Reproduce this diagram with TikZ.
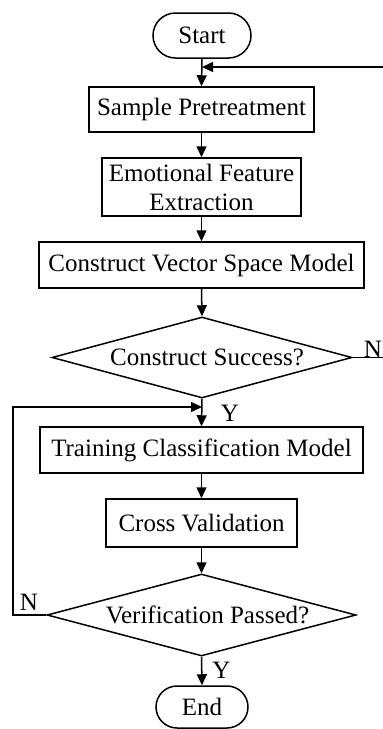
\documentclass[tikz,border=0pt]{standalone}
\usepackage{fontspec}
\setmainfont{Liberation Serif}
\usetikzlibrary{shapes.misc,shapes.geometric,arrows.meta}
\begin{document}
\begin{tikzpicture}[x=1pt,y=-1pt,
  every node/.style={font=\fontsize{25}{29}\selectfont, inner sep=0pt},
  proc/.style={draw, line width=1.5pt, rectangle, align=center},
  term/.style={draw, line width=1.5pt, rounded rectangle},
  dec/.style={draw, line width=1.5pt, diamond},
  flow/.style={line width=1.5pt, -{Triangle[length=11pt,width=10pt]}},
  link/.style={line width=1.5pt}]
\useasboundingbox (0,0) rectangle (383,729);
\node[term, minimum width=98pt, minimum height=45pt] (start) at (202,35.5) {Start};
\node[proc, minimum width=225pt, minimum height=45pt] (sample) at (201.5,109.5) {Sample Pretreatment};
\node[proc, minimum width=199pt, minimum height=58pt] (emo) at (201.5,187) {Emotional Feature\\Extraction};
\node[proc, minimum width=325pt, minimum height=46pt] (vsm) at (201.5,265) {Construct Vector Space Model};
\node[dec, minimum width=300pt, minimum height=81pt] (d1) at (202,357.5) {\makebox[0pt]{\hspace{10pt}Construct Success?}};
\node[proc, minimum width=323pt, minimum height=46pt] (train) at (201.5,450) {Training Classification Model};
\node[proc, minimum width=191pt, minimum height=48pt] (cross) at (201.5,523) {Cross Validation};
\node[dec, minimum width=309pt, minimum height=82pt] (d2) at (201.5,615) {\makebox[0pt]{\hspace{12pt}Verification Passed?}};
\node[term, minimum width=92pt, minimum height=42pt] (end) at (202,707) {End};

\coordinate (j1) at (202,67);
\coordinate (j2) at (202,407);
\coordinate (r1) at (386,357.5);
\coordinate (r2) at (386,67);
\coordinate (l1) at (13,615);
\coordinate (l2) at (13,407);

\draw[flow] (start.south) -- (sample.north);
\draw[flow] (sample.south) -- (emo.north);
\draw[flow] (emo.south) -- (vsm.north);
\draw[flow] (vsm.south) -- (d1.north);
\draw[flow] (d1.south) -- (train.north);
\draw[flow] (train.south) -- (cross.north);
\draw[flow] (cross.south) -- (d2.north);
\draw[flow] (d2.south) -- (end.north);
\draw[flow] (d1.east) -- (r1) -- (r2) -- (j1);
\draw[flow] (d2.west) -- (l1) -- (l2) -- (j2);

\node (n1) at (373,349) {N};
\node (y1) at (230,413) {Y};
\node (n2) at (29,602.5) {N};
\node (y2) at (221.5,670.5) {Y};
\end{tikzpicture}
\end{document}
